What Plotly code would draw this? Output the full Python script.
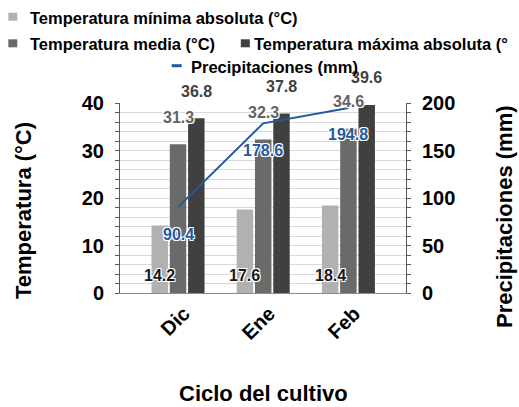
import plotly.graph_objects as go

# ---- data ----
categories = ["Dic", "Ene", "Feb"]
temp_min = [14.2, 17.6, 18.4]
temp_media = [31.3, 32.3, 34.6]
temp_max = [36.8, 37.8, 39.6]
precip = [90.4, 178.6, 194.8]

series_names = [
    "Temperatura mínima absoluta (°C)",
    "Temperatura media (°C)",
    "Temperatura máxima absoluta (°C)",
    "Precipitaciones (mm)",
]
# legend captions as printed (the last temperature caption runs off the page edge)
legend_labels = [
    "Temperatura mínima absoluta (°C)",
    "Temperatura media (°C)",
    "Temperatura máxima absoluta (°",
    "Precipitaciones (mm)",
]
y_title = "Temperatura (°C)"
y2_title = "Precipitaciones (mm)"
x_title = "Ciclo del cultivo"

# ---- style ----
W, H = 519, 407
ML, MR, MT, MB = 120, 113, 103, 114
PW, PH = W - ML - MR, H - MT - MB
FONT = "Liberation Sans, Arial, sans-serif"
C_MIN, C_MED, C_MAX = "#b1b1b1", "#6a6a6a", "#404040"
C_LINE = "#1f5a9c"
AXIS_C = "#595959"
GRID_C = "#d9d9d9"
BARGAP = 0.356
SLOT = (1 - BARGAP) / 3
OUTLINE = "1px 1px 0 #fff, -1px -1px 0 #fff, 1px -1px 0 #fff, -1px 1px 0 #fff"


def px_x(px):
    return (px - ML) / PW


def px_y(py):
    return (H - MB - py) / PH


fig = go.Figure()
for vals, name, col in [
    (temp_min, series_names[0], C_MIN),
    (temp_media, series_names[1], C_MED),
    (temp_max, series_names[2], C_MAX),
]:
    fig.add_trace(go.Bar(x=categories, y=vals, name=name, marker=dict(color=col, line=dict(width=0)),
                         showlegend=False))

fig.add_trace(go.Scatter(x=categories, y=precip, name=series_names[3], yaxis="y2", mode="lines",
                         line=dict(color=C_LINE, width=2), showlegend=False))

annotations = []


def lab(x, y, text, color, yshift, yref="y"):
    annotations.append(dict(x=x, y=y, xref="x", yref=yref, text=text, showarrow=False,
                            yshift=yshift, xanchor="center", yanchor="middle",
                            font=dict(family=FONT, size=16, color=color, weight="bold", shadow=OUTLINE)))


for i in range(len(categories)):
    lab(i - SLOT, 0, f"{temp_min[i]:.1f}", "#1a1a1a", 18)
    lab(i, temp_media[i], f"{temp_media[i]:.1f}", "#636363", 27)
    lab(i + SLOT, temp_max[i], f"{temp_max[i]:.1f}", "#404040", 27)
    lab(i, precip[i], f"{precip[i]:.1f}", C_LINE, -27, yref="y2")

# axis titles
title_font = dict(family=FONT, size=22, color="#000", weight="bold")
for tx, ty, txt, ang in [(23, 211, y_title, -90), (504, 217, y2_title, -90), (263.5, 393, x_title, 0)]:
    annotations.append(dict(x=px_x(tx), y=px_y(ty), xref="paper", yref="paper", text=txt,
                            textangle=ang, showarrow=False, xanchor="center", yanchor="middle",
                            font=title_font))

# legend
shapes = []
leg_font = dict(family=FONT, size=16.5, color="#000", weight="bold")
leg_items = [
    (12.8, 16.7, 29.3, 0, C_MIN),
    (12.8, 43.3, 29.3, 1, C_MED),
    (245.3, 43.3, 253.3, 2, C_MAX),
]
for cx, cy, tx, k, col in leg_items:
    shapes.append(dict(type="rect", xref="paper", yref="paper", x0=px_x(cx - 4.5), x1=px_x(cx + 4.5),
                       y0=px_y(cy + 4), y1=px_y(cy - 4), fillcolor=col, line=dict(width=0)))
    annotations.append(dict(x=px_x(tx - 1), y=px_y(cy + 1), xref="paper", yref="paper",
                            text=legend_labels[k], showarrow=False, xanchor="left", yanchor="middle",
                            font=leg_font))
shapes.append(dict(type="line", xref="paper", yref="paper", x0=px_x(171.7), x1=px_x(181.7),
                   y0=px_y(65.7), y1=px_y(65.7), line=dict(color=C_LINE, width=3)))
annotations.append(dict(x=px_x(189), y=px_y(66.5), xref="paper", yref="paper", text=legend_labels[3],
                        showarrow=False, xanchor="left", yanchor="middle", font=leg_font))

tick_font = dict(family=FONT, size=20, color="#000", weight="bold")
fig.update_layout(
    width=W, height=H,
    margin=dict(l=ML, r=MR, t=MT, b=MB),
    paper_bgcolor="white", plot_bgcolor="white",
    barmode="group", bargap=BARGAP, bargroupgap=0.1,
    showlegend=False,
    font=dict(family=FONT),
    xaxis=dict(type="category", range=[-0.681, 2.676], showline=True, linecolor="#8c8c8c",
               ticks="", tickangle=-45, tickfont=tick_font, showgrid=False, zeroline=False,
               ticklabelshift=6, ticklabelstandoff=0),
    yaxis=dict(range=[0, 40], dtick=10, showline=True, linecolor=AXIS_C, ticks="outside", ticklen=4,
               tickcolor=AXIS_C, tickfont=tick_font, showgrid=True, gridcolor=GRID_C, zeroline=False,
               ticklabelstandoff=7,
               minor=dict(dtick=2, ticks="outside", ticklen=4, tickcolor=AXIS_C, showgrid=True,
                          gridcolor=GRID_C)),
    yaxis2=dict(range=[0, 200], dtick=50, overlaying="y", side="right", showline=True, linecolor=AXIS_C,
                ticks="outside", ticklen=4, tickcolor=AXIS_C, tickfont=tick_font, showgrid=False,
                zeroline=False, ticklabelstandoff=7,
                minor=dict(dtick=10, ticks="outside", ticklen=4, tickcolor=AXIS_C)),
    yaxis3=dict(range=[0, 40], dtick=10, overlaying="y", side="left", anchor="x", showline=False,
                ticks="inside", ticklen=4, tickcolor=AXIS_C, showticklabels=False, showgrid=False,
                zeroline=False, minor=dict(dtick=2, ticks="inside", ticklen=4, tickcolor=AXIS_C)),
    yaxis4=dict(range=[0, 200], dtick=50, overlaying="y", side="right", anchor="x", showline=False,
                ticks="inside", ticklen=4, tickcolor=AXIS_C, showticklabels=False, showgrid=False,
                zeroline=False, minor=dict(dtick=10, ticks="inside", ticklen=4, tickcolor=AXIS_C)),
    annotations=annotations,
    shapes=shapes,
)

fig.write_html("out.html")
